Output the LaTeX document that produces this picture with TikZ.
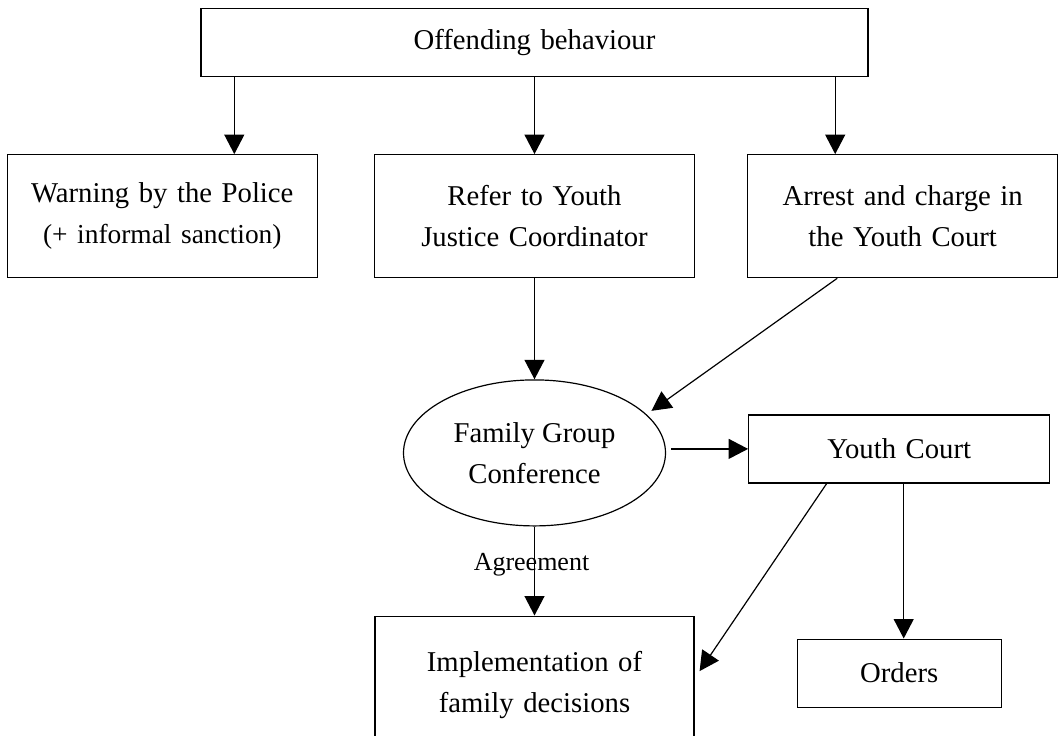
\documentclass[tikz,border=0pt]{standalone}
\usepackage{fontspec}
\setmainfont{Liberation Serif}
\usepackage{tikz}
\usetikzlibrary{shapes.geometric, arrows.meta, positioning, calc}

\newcommand{\boxfont}{\fontsize{14.35}{20.5}\selectfont}

\begin{document}
\begin{tikzpicture}[
    x=0.5pt, y=-0.5pt,
    node distance=28pt and 26pt,
    block/.style={rectangle, draw, line width=0.6pt, inner sep=0pt, text width=155pt, text centered, minimum height=61.5pt, font=\boxfont},
    flatblock/.style={block, minimum height=34pt},
    decision/.style={ellipse, draw, line width=0.6pt, inner sep=0pt, minimum width=131pt, minimum height=73pt, align=center, font=\boxfont},
    arrow/.style={line width=0.6pt, -{Triangle[width=10pt, length=9.75pt]}},
    note/.style={font=\fontsize{13}{15}\selectfont}
]

\useasboundingbox (0,0) rectangle (1061,735);

% Nodes

\node[flatblock, text width=333.5pt] (offending) at (534.5,42.5) {Offending behaviour};

% First decision row

\node[block, text width=160pt, below=38.5pt of offending] (refer) {Refer to Youth\\Justice Coordinator};

\node[block, left=28pt of refer] (warning) {Warning by the Police\\{\fontsize{13.7}{20.5}\selectfont (+ informal sanction)}};

\node[block, right=26pt of refer] (arrest) {Arrest and charge in\\the Youth Court};

\draw[arrow] ([xshift=36pt]warning.north |- offending.south) -- ([xshift=36pt]warning.north);
\draw[arrow] (offending.south -| refer.north) -- (refer.north);
\draw[arrow] ([xshift=-33.75pt]arrest.north |- offending.south) -- ([xshift=-33.75pt]arrest.north);

% Conference

\node[decision, below=50.5pt of refer] (fgc) {Family Group\\Conference};

\node[flatblock, text width=150.5pt, right=41pt of fgc, yshift=2pt] (court) {Youth Court};

\draw[arrow] (refer.south) -- (fgc.north);
\draw[arrow, shorten >=3pt] ([xshift=-32.75pt]arrest.south) -- (fgc.19);
\draw[arrow] ([xshift=2.5pt]fgc.east |- court.west) -- (court.west);

% Outcomes

\node[block, text width=159.5pt, minimum height=69pt, below=44.5pt of fgc] (implement) {Implementation of\\family decisions};

\node[flatblock, text width=102pt, below=77.5pt of court] (orders) {Orders};

\draw[arrow] (fgc.south) -- node[note, xshift=-1.5pt, yshift=3.25pt] {Agreement} (implement.north);
\draw[arrow] ([xshift=-36.25pt]court.south) -- ([xshift=2.5pt, yshift=7pt]implement.east);
\draw[arrow] ([xshift=2.25pt]court.south) -- ([xshift=2.25pt]court.south |- orders.north);

\end{tikzpicture}
\end{document}
